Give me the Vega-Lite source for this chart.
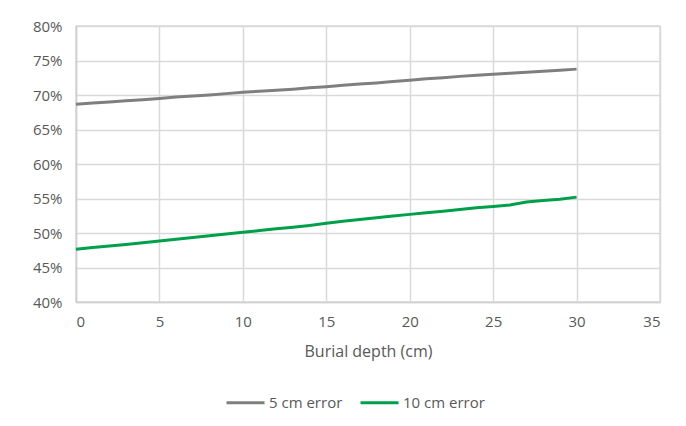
{
  "$schema": "https://vega.github.io/schema/vega-lite/v6.json",
  "width": 584,
  "height": 276,
  "autosize": {"type": "none"},
  "padding": {"left": 76, "top": 26, "right": 26, "bottom": 124},
  "background": "white",
  "config": {
    "font": "Open Sans",
    "view": {"stroke": "#d9d9d9", "strokeWidth": 1.5},
    "axis": {
      "labelColor": "#595959",
      "titleColor": "#595959",
      "labelFontSize": 15,
      "titleFontSize": 16,
      "titleFontWeight": "normal",
      "gridColor": "#d9d9d9",
      "gridWidth": 1.5,
      "domainColor": "#d0d0d0",
      "domainWidth": 1.5,
      "ticks": false
    },
    "legend": {
      "labelColor": "#595959",
      "labelFontSize": 15
    }
  },
  "data": {
    "values": [
      {"depth": 0, "series": "5 cm error", "rate": 0.6865},
      {"depth": 1, "series": "5 cm error", "rate": 0.6885},
      {"depth": 2, "series": "5 cm error", "rate": 0.6900},
      {"depth": 3, "series": "5 cm error", "rate": 0.6915},
      {"depth": 4, "series": "5 cm error", "rate": 0.6930},
      {"depth": 5, "series": "5 cm error", "rate": 0.6950},
      {"depth": 6, "series": "5 cm error", "rate": 0.6970},
      {"depth": 7, "series": "5 cm error", "rate": 0.6985},
      {"depth": 8, "series": "5 cm error", "rate": 0.7000},
      {"depth": 9, "series": "5 cm error", "rate": 0.7020},
      {"depth": 10, "series": "5 cm error", "rate": 0.7040},
      {"depth": 11, "series": "5 cm error", "rate": 0.7055},
      {"depth": 12, "series": "5 cm error", "rate": 0.7070},
      {"depth": 13, "series": "5 cm error", "rate": 0.7085},
      {"depth": 14, "series": "5 cm error", "rate": 0.7105},
      {"depth": 15, "series": "5 cm error", "rate": 0.7120},
      {"depth": 16, "series": "5 cm error", "rate": 0.7140},
      {"depth": 17, "series": "5 cm error", "rate": 0.7160},
      {"depth": 18, "series": "5 cm error", "rate": 0.7175},
      {"depth": 19, "series": "5 cm error", "rate": 0.7195},
      {"depth": 20, "series": "5 cm error", "rate": 0.7215},
      {"depth": 21, "series": "5 cm error", "rate": 0.7235},
      {"depth": 22, "series": "5 cm error", "rate": 0.7250},
      {"depth": 23, "series": "5 cm error", "rate": 0.7270},
      {"depth": 24, "series": "5 cm error", "rate": 0.7285},
      {"depth": 25, "series": "5 cm error", "rate": 0.7300},
      {"depth": 26, "series": "5 cm error", "rate": 0.7315},
      {"depth": 27, "series": "5 cm error", "rate": 0.7330},
      {"depth": 28, "series": "5 cm error", "rate": 0.7345},
      {"depth": 29, "series": "5 cm error", "rate": 0.7360},
      {"depth": 30, "series": "5 cm error", "rate": 0.7375},
      {"depth": 0, "series": "10 cm error", "rate": 0.4765},
      {"depth": 1, "series": "10 cm error", "rate": 0.4790},
      {"depth": 2, "series": "10 cm error", "rate": 0.4810},
      {"depth": 3, "series": "10 cm error", "rate": 0.4835},
      {"depth": 4, "series": "10 cm error", "rate": 0.4860},
      {"depth": 5, "series": "10 cm error", "rate": 0.4885},
      {"depth": 6, "series": "10 cm error", "rate": 0.4910},
      {"depth": 7, "series": "10 cm error", "rate": 0.4935},
      {"depth": 8, "series": "10 cm error", "rate": 0.4960},
      {"depth": 9, "series": "10 cm error", "rate": 0.4985},
      {"depth": 10, "series": "10 cm error", "rate": 0.5010},
      {"depth": 11, "series": "10 cm error", "rate": 0.5035},
      {"depth": 12, "series": "10 cm error", "rate": 0.5060},
      {"depth": 13, "series": "10 cm error", "rate": 0.5085},
      {"depth": 14, "series": "10 cm error", "rate": 0.5110},
      {"depth": 15, "series": "10 cm error", "rate": 0.5140},
      {"depth": 16, "series": "10 cm error", "rate": 0.5170},
      {"depth": 17, "series": "10 cm error", "rate": 0.5195},
      {"depth": 18, "series": "10 cm error", "rate": 0.5220},
      {"depth": 19, "series": "10 cm error", "rate": 0.5245},
      {"depth": 20, "series": "10 cm error", "rate": 0.5270},
      {"depth": 21, "series": "10 cm error", "rate": 0.5295},
      {"depth": 22, "series": "10 cm error", "rate": 0.5315},
      {"depth": 23, "series": "10 cm error", "rate": 0.5340},
      {"depth": 24, "series": "10 cm error", "rate": 0.5365},
      {"depth": 25, "series": "10 cm error", "rate": 0.5385},
      {"depth": 26, "series": "10 cm error", "rate": 0.5405},
      {"depth": 27, "series": "10 cm error", "rate": 0.5450},
      {"depth": 28, "series": "10 cm error", "rate": 0.5470},
      {"depth": 29, "series": "10 cm error", "rate": 0.5490},
      {"depth": 30, "series": "10 cm error", "rate": 0.5520}
    ]
  },
  "mark": {"type": "line", "strokeWidth": 3, "interpolate": "linear"},
  "encoding": {
    "x": {
      "field": "depth",
      "type": "quantitative",
      "title": "Burial depth (cm)",
      "scale": {"domain": [0, 35], "nice": false},
      "axis": {"values": [0, 5, 10, 15, 20, 25, 30, 35], "labelPadding": 12, "titlePadding": 14}
    },
    "y": {
      "field": "rate",
      "type": "quantitative",
      "title": null,
      "scale": {"domain": [0.4, 0.8], "nice": false, "zero": false},
      "axis": {"values": [0.4, 0.45, 0.5, 0.55, 0.6, 0.65, 0.7, 0.75, 0.8], "format": ".0%", "labelPadding": 14}
    },
    "color": {
      "field": "series",
      "type": "nominal",
      "title": null,
      "sort": ["5 cm error", "10 cm error"],
      "scale": {"domain": ["5 cm error", "10 cm error"], "range": ["#7f7f7f", "#00a04b"]},
      "legend": {
        "orient": "none",
        "legendX": 149,
        "legendY": 356,
        "direction": "horizontal",
        "symbolType": "stroke",
        "symbolSize": 1444,
        "symbolStrokeWidth": 3,
        "labelOffset": 3,
        "columnPadding": 11
      }
    }
  }
}
